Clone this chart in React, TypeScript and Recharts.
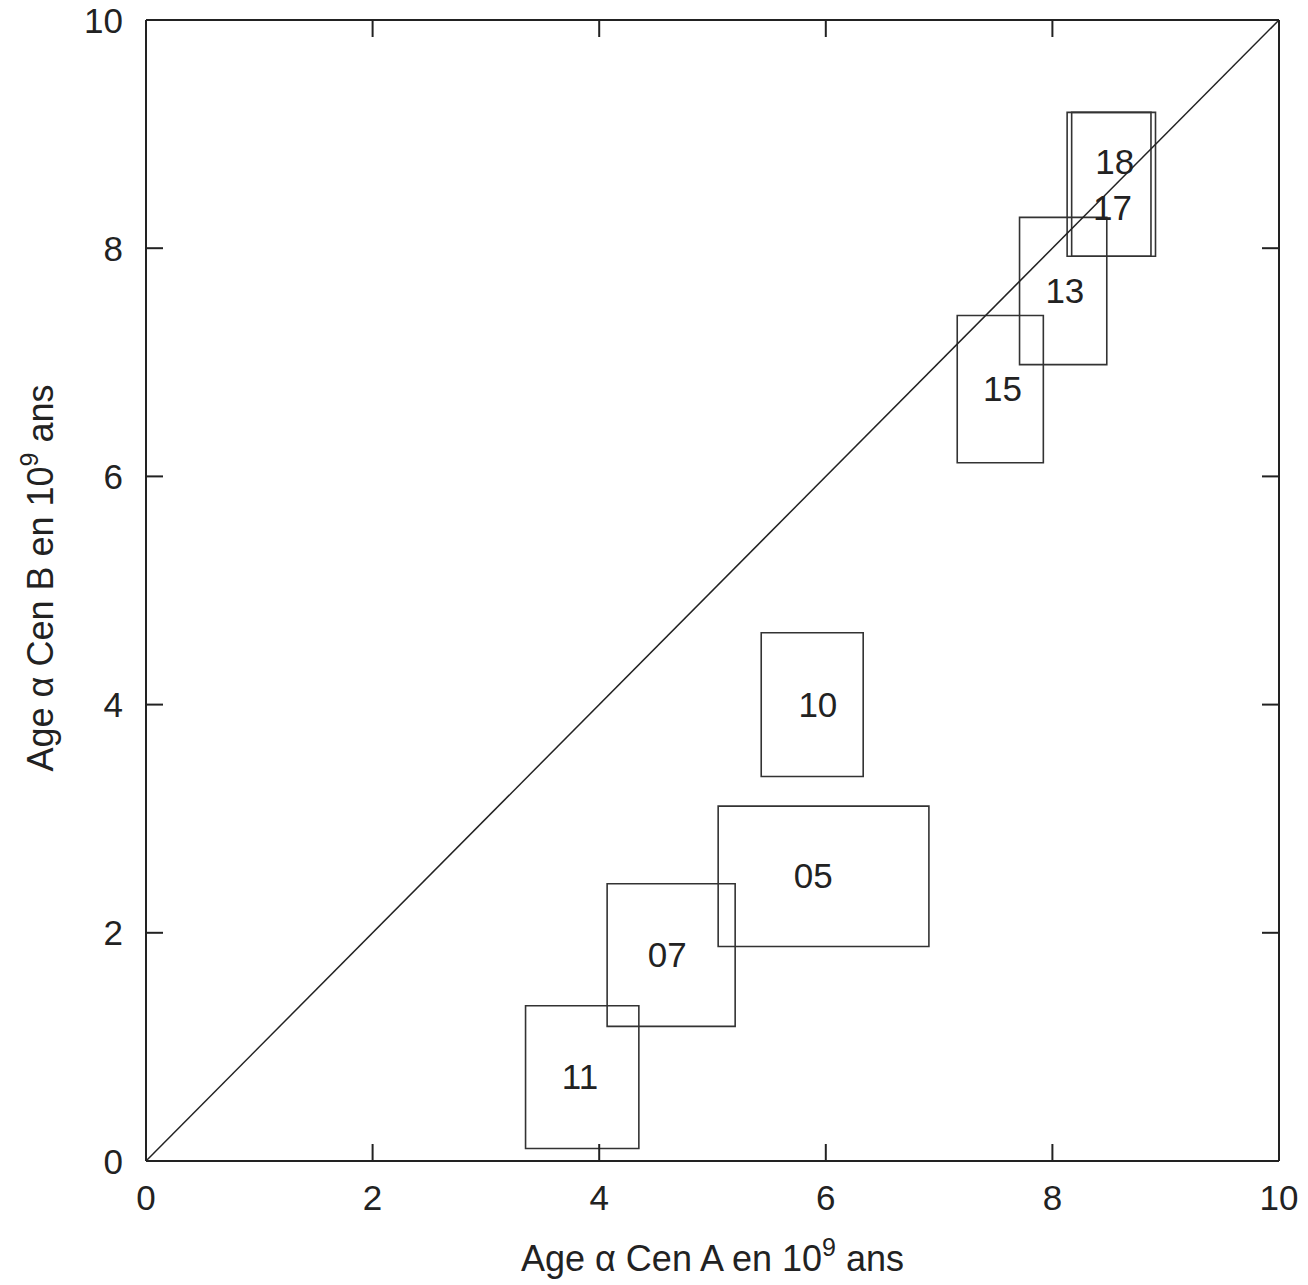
import React from 'react';
import { ScatterChart, Scatter, XAxis, YAxis, ReferenceArea, ReferenceLine } from 'recharts';

// Model identifiers
const ids = ['05', '07', '10', '11', '13', '15', '17', '18'];
// Age alpha Cen A ranges (10^9 yr)
const ageAMin = [5.05, 4.07, 5.43, 3.35, 7.71, 7.16, 8.17, 8.13];
const ageAMax = [6.91, 5.2, 6.33, 4.35, 8.48, 7.92, 8.91, 8.87];
// Age alpha Cen B ranges (10^9 yr)
const ageBMin = [1.88, 1.18, 3.37, 0.11, 6.98, 6.12, 7.93, 7.93];
const ageBMax = [3.11, 2.43, 4.63, 1.36, 8.27, 7.41, 9.19, 9.19];
// Label positions
const labelA = [5.89, 4.6, 5.93, 3.83, 8.11, 7.56, 8.53, 8.55];
const labelB = [2.5, 1.81, 4.0, 0.74, 7.63, 6.77, 8.36, 8.76];
// Axis ticks
const ticks = [0, 2, 4, 6, 8, 10];
const domain: [number, number] = [0, 10];
const diagonal = [{ x: 0, y: 0 }, { x: 10, y: 10 }];

const FONT = '"Liberation Sans", Arial, Helvetica, sans-serif';
const INK = '#222';
const TICK = 17;
const MARGIN_TOP = 19;
const TOP_AXIS_H = 1;
const PLOT_TOP = MARGIN_TOP + TOP_AXIS_H;

const labelData = ids.map((id, i) => ({ a: labelA[i], b: labelB[i], id }));

const BottomTick = (p: any) => (
  <g>
    <line x1={p.x} x2={p.x} y1={p.y} y2={p.y - TICK} stroke={INK} strokeWidth={2} />
    <line x1={p.x} x2={p.x} y1={PLOT_TOP} y2={PLOT_TOP + TICK} stroke={INK} strokeWidth={2} />
    <text x={p.x} y={p.y + 49} textAnchor="middle" fontSize={35} fontFamily={FONT} fill={INK}>
      {p.payload.value}
    </text>
  </g>
);
const LeftTick = (p: any) => (
  <g>
    <line x1={p.x} x2={p.x + TICK} y1={p.y} y2={p.y} stroke={INK} strokeWidth={2} />
    <text x={p.x - 23} y={p.y} dy="0.36em" textAnchor="end" fontSize={35} fontFamily={FONT} fill={INK}>
      {p.payload.value}
    </text>
  </g>
);
const RightTick = (p: any) => (
  <line x1={p.x} x2={p.x - TICK} y1={p.y} y2={p.y} stroke={INK} strokeWidth={2} />
);

const XTitle = (p: any) => {
  const vb = p.viewBox || { x: 146, width: 1133 };
  const cx = vb.x + vb.width / 2;
  return (
    <text x={cx} y={1271} textAnchor="middle" fontSize={36} fontFamily={FONT} fill={INK}>
      Age α Cen A en 10
      <tspan dy={-15} fontSize={25}>9</tspan>
      <tspan dy={15}> ans</tspan>
    </text>
  );
};
const YTitle = () => {
  const cy = 578;
  const x = 53;
  return (
    <text x={x} y={cy} transform={`rotate(-90, ${x}, ${cy})`} textAnchor="middle" fontSize={36} fontFamily={FONT} fill={INK}>
      Age α Cen B en 10
      <tspan dy={-15} fontSize={25}>9</tspan>
      <tspan dy={15}> ans</tspan>
    </text>
  );
};

const LabelShape = (p: any) => (
  <text x={p.cx} y={p.cy} dy="0.36em" textAnchor="middle" fontSize={35} fontFamily={FONT} fill={INK}>
    {p.payload.id}
  </text>
);

export default function App() {
  return (
    <div style={{ position: 'absolute', left: 0, top: 0, background: '#fff' }}>
      <ScatterChart width={1308} height={1285} margin={{ top: MARGIN_TOP, right: 28, left: 0, bottom: 0 }}>
        <XAxis
          xAxisId={0}
          type="number"
          dataKey="a"
          domain={domain}
          ticks={ticks}
          interval={0}
          orientation="bottom"
          height={124}
          tickSize={0}
          tickMargin={0}
          tickLine={false}
          tick={BottomTick}
          axisLine={{ stroke: INK, strokeWidth: 2 }}
          allowDataOverflow
          label={<XTitle />}
        />
        <XAxis
          xAxisId="top"
          type="number"
          domain={domain}
          ticks={ticks}
          interval={0}
          orientation="top"
          height={TOP_AXIS_H}
          tickSize={0}
          tickMargin={0}
          tickLine={false}
          tick={false}
          axisLine={{ stroke: INK, strokeWidth: 2 }}
          allowDataOverflow
        />
        <YAxis
          yAxisId={0}
          type="number"
          dataKey="b"
          domain={domain}
          ticks={ticks}
          interval={0}
          orientation="left"
          width={146}
          tickSize={0}
          tickMargin={0}
          tickLine={false}
          tick={LeftTick}
          axisLine={{ stroke: INK, strokeWidth: 2 }}
          allowDataOverflow
          label={<YTitle />}
        />
        <YAxis
          yAxisId="right"
          type="number"
          domain={domain}
          ticks={ticks}
          interval={0}
          orientation="right"
          width={1}
          tickSize={0}
          tickMargin={0}
          tickLine={false}
          tick={RightTick}
          axisLine={{ stroke: INK, strokeWidth: 2 }}
          allowDataOverflow
        />
        <ReferenceLine
          xAxisId={0}
          yAxisId={0}
          segment={diagonal}
          stroke={INK}
          strokeWidth={1.5}
          ifOverflow="visible"
        />
        {ids.map((id, i) => (
          <ReferenceArea
            key={id}
            xAxisId={0}
            yAxisId={0}
            x1={ageAMin[i]}
            x2={ageAMax[i]}
            y1={ageBMin[i]}
            y2={ageBMax[i]}
            fill="none"
            fillOpacity={0}
            stroke="#333"
            strokeWidth={1.6}
            ifOverflow="visible"
          />
        ))}
        <Scatter
          xAxisId={0}
          yAxisId={0}
          data={labelData}
          shape={LabelShape}
          isAnimationActive={false}
        />
      </ScatterChart>
    </div>
  );
}
